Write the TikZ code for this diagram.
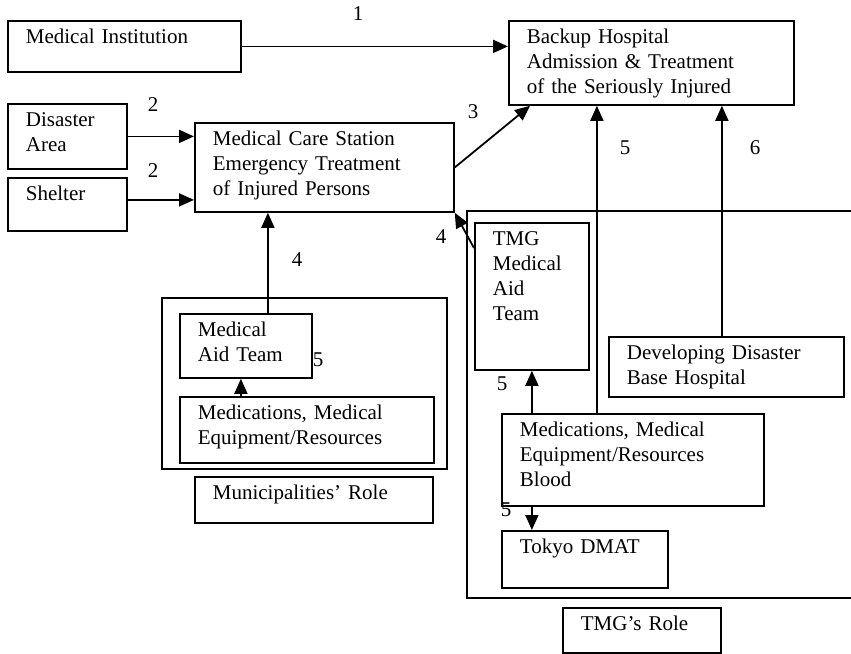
\documentclass[tikz,border=0pt]{standalone}
\usepackage{fontspec}
\setmainfont{Liberation Serif}
\usetikzlibrary{arrows.meta}

\begin{document}
\begin{tikzpicture}[x=0.5pt, y=-0.5pt, line width=0.9pt,
    font=\fontsize{10.5}{12.5}\selectfont,
    box/.style={draw, anchor=north west, align=left, inner xsep=9pt, inner ysep=0pt, text height=11.5pt},
    frame/.style={draw, anchor=north west, inner sep=0pt},
    num/.style={inner sep=0pt},
    arr/.style={-{Triangle[length=7.5pt,width=6.5pt]}}]
\useasboundingbox (0,0) rectangle (851,653);
% sources on the left
\node[box, text width=98.5pt, text depth=14pt] (inst) at (7,20) {Medical Institution};
\node[box, text width=41.5pt, text depth=21pt] (area) at (7,103) {Disaster\\Area};
\node[box, text width=41.5pt, text depth=15pt] (shelter) at (7,177) {Shelter};
\node[box, text width=111.5pt, text depth=33pt] (station) at (194,122) {Medical Care Station\\Emergency Treatment\\of Injured Persons};
\node[box, text width=124.5pt, text depth=30.5pt] (backup) at (508,20) {Backup Hospital\\Admission \& Treatment\\of the Seriously Injured};
% municipalities
\node[frame, minimum width=142.5pt, minimum height=85.5pt] (muni) at (161,297) {};
\node[box, text width=48pt, text depth=20.5pt] (aidm) at (179,313) {Medical\\Aid Team};
\node[box, text width=109pt, text depth=21.5pt] (medm) at (179,396) {Medications, Medical\\Equipment/Resources};
\node[box, text width=101pt, text depth=11.5pt] (munirole) at (194,476) {Municipalities’ Role};
% TMG
\draw (851,211) -- (467,211) -- (467,598) -- (851,598);
\node[box, text width=39pt, text depth=62pt] (tmgaid) at (474,222) {TMG\\Medical\\Aid\\Team};
\node[box, text width=99.5pt, text depth=18.5pt] (base) at (608,336) {Developing Disaster\\Base Hospital};
\node[box, text width=113pt, text depth=34.5pt] (medt) at (501,413) {Medications, Medical\\Equipment/Resources\\Blood};
\node[box, text width=65pt, text depth=17pt] (dmat) at (501,530) {Tokyo DMAT};
\node[box, text width=61pt, text depth=11pt] (tmgrole) at (562,607) {TMG’s Role};

% arrows
\coordinate (sh) at ([yshift=2.25pt]shelter.east);
\coordinate (a4) at ([xshift=11pt]aidm.north);
\coordinate (a5) at ([xshift=-2.5pt]aidm.south);
\coordinate (b5) at ([xshift=-27.25pt]backup.south);
\coordinate (b6) at ([xshift=-2.25pt]base.north);
\draw[arr] (inst.east) -- (inst.east -| backup.west);
\draw[arr] (area.east) -- (area.east -| station.west);
\draw[arr] (sh) -- (sh -| station.west);
\draw[arr] (station.east) -- ([xshift=11pt]backup.south west);
\draw[arr] (a4) -- (a4 |- station.south);
\draw[arr] (a5 |- medm.north) -- (a5);
\draw[arr] ([yshift=-13pt]tmgaid.north west) -- (station.south east);
\draw[arr] (tmgaid.south |- medt.north) -- (tmgaid.south);
\draw[arr] (b5 |- medt.north) -- (b5);
\draw[arr] (b6) -- (b6 |- backup.south);
\draw[arr] (tmgaid.south |- medt.south) -- (tmgaid.south |- dmat.north);

% numbers
\node[num] (n1) at (358,14) {1};
\node[num] (n2a) at (153,105) {2};
\node[num] (n2b) at (153,171) {2};
\node[num] (n3) at (473,112) {3};
\node[num] (n5b) at (625,148) {5};
\node[num] (n6) at (755,148) {6};
\node[num] (n4m) at (297,260) {4};
\node[num] (n5m) at (318,360) {5};
\node[num] (n4t) at (441,237) {4};
\node[num] (n5u) at (502,384) {5};
\node[num] (n5d) at (506,510) {5};
\end{tikzpicture}
\end{document}
